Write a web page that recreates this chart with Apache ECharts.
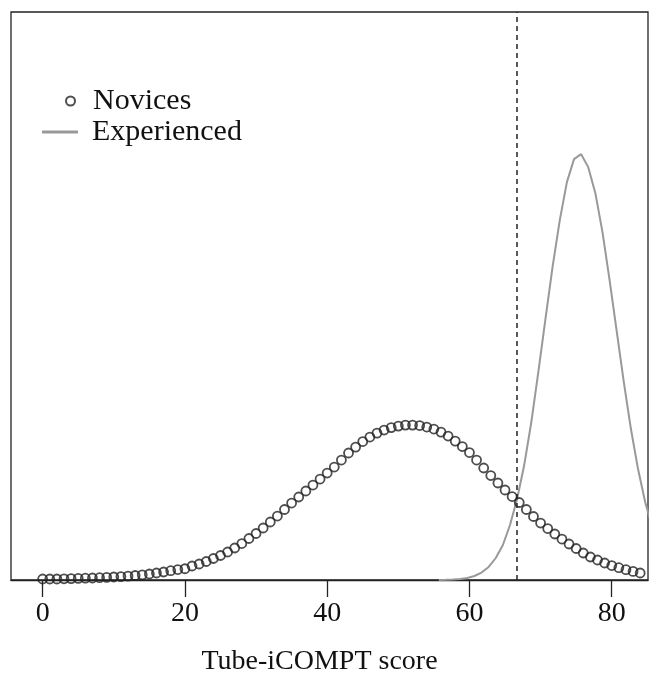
<!DOCTYPE html>
<html>
<head>
<meta charset="utf-8">
<script src="https://cdn.jsdelivr.net/npm/echarts@6/dist/echarts.min.js"></script>
<style>
html,body{margin:0;padding:0;background:#fff;}
#chart{width:649px;height:673px;}
</style>
</head>
<body>
<div id="chart"></div>
<script>
// Novices: density estimate at integer scores 0..84
const noviceScores = [0,1,2,3,4,5,6,7,8,9,10,11,12,13,14,15,16,17,18,19,20,21,22,23,24,25,26,27,28,29,30,31,32,33,34,35,36,37,38,39,40,41,42,43,44,45,46,47,48,49,50,51,52,53,54,55,56,57,58,59,60,61,62,63,64,65,66,67,68,69,70,71,72,73,74,75,76,77,78,79,80,81,82,83,84];
const noviceDensity = [0.00019,0.00019,0.00019,0.00023,0.00027,0.00031,0.00034,0.00038,0.00044,0.00050,
  0.00057,0.00065,0.00075,0.00086,0.00099,0.00115,0.00134,0.00153,0.00178,0.00200,
  0.00215,0.00268,0.00306,0.00354,0.00411,0.00469,0.00536,0.00612,0.00698,0.00794,
  0.00890,0.00995,0.01110,0.01224,0.01349,0.01473,0.01588,0.01703,0.01817,0.01932,
  0.02047,0.02162,0.02296,0.02430,0.02544,0.02650,0.02736,0.02812,0.02870,0.02917,
  0.02946,0.02965,0.02965,0.02956,0.02927,0.02889,0.02831,0.02755,0.02659,0.02554,
  0.02439,0.02296,0.02143,0.01999,0.01856,0.01722,0.01597,0.01483,0.01349,0.01215,
  0.01090,0.00985,0.00880,0.00784,0.00689,0.00603,0.00517,0.00440,0.00383,0.00325,
  0.00277,0.00235,0.00197,0.00165,0.00134];

// Experienced: density curve
const expScores = [55.7,56.7,57.7,58.7,59.7,60.7,61.7,62.7,63.7,64.7,65.7,66.7,67.7,68.7,69.7,70.7,71.7,72.7,73.7,74.7,75.7,76.7,77.7,78.7,79.7,80.7,81.7,82.7,83.7,84.7,85.7];
const expDensity = [0,0.00004,0.00010,0.00019,0.00038,0.00077,0.00143,0.00249,0.00421,0.00670,
  0.01052,0.01550,0.02200,0.03023,0.03998,0.05012,0.06007,0.06887,0.07614,0.08054,
  0.08149,0.07901,0.07403,0.06657,0.05739,0.04763,0.03788,0.02889,0.02123,0.01492,0.01014];

const cutoff = 66.7;
const xTicks = [0,20,40,60,80];
const seriesNames = ['Novices','Experienced'];
const xTitle = 'Tube-iCOMPT score';

const FONT = 'Liberation Serif';
const chart = echarts.init(document.getElementById('chart'), null, {renderer:'canvas'});
chart.setOption({
  animation:false,
  backgroundColor:'#fff',
  grid:{left:11, right:1, top:12, bottom:93, outerBoundsMode:'none', containLabel:false,
        show:true, borderColor:'#222', borderWidth:1.3, backgroundColor:'transparent'},
  xAxis:{
    type:'value', min:-4.45, max:85.1,
    axisLine:{show:true, lineStyle:{color:'#222', width:1.3}},
    axisTick:{show:true, customValues:xTicks, length:17, lineStyle:{color:'#222', width:1.3}},
    axisLabel:{show:true, customValues:xTicks, margin:20, fontFamily:FONT, fontSize:28, color:'#111'},
    splitLine:{show:false},
    name:xTitle, nameLocation:'middle', nameGap:68,
    nameTextStyle:{fontFamily:FONT, fontSize:28, color:'#111', padding:[0,20,0,0]}
  },
  yAxis:{type:'value', min:0, max:0.1087, show:false, splitLine:{show:false}},
  legend:[
    {data:[{name:seriesNames[0], icon:'circle'}], orient:'vertical', left:65, top:86, itemWidth:9, itemHeight:9, padding:0,
     textStyle:{fontFamily:FONT, fontSize:30, color:'#111', padding:[0,0,0,13]}},
    {data:[{name:seriesNames[1], icon:'rect'}], orient:'vertical', left:42, top:117, itemWidth:36, itemHeight:3, padding:0,
     textStyle:{fontFamily:FONT, fontSize:30, color:'#111', padding:[0,0,0,9]}}
  ],
  series:[
    {
      name:seriesNames[0], type:'scatter',
      data:noviceScores.map((x,i)=>[x, noviceDensity[i]]),
      symbol:'circle', symbolSize:9,
      itemStyle:{color:'rgba(0,0,0,0)', borderColor:'#222', borderWidth:1.8},
      z:3
    },
    {
      name:seriesNames[1], type:'line',
      data:expScores.map((x,i)=>[x, expDensity[i]]),
      symbol:'none', smooth:false,
      lineStyle:{color:'#999', width:2},
      itemStyle:{color:'#999'},
      z:2,
      markLine:{
        silent:true, symbol:'none', label:{show:false},
        lineStyle:{color:'#222', type:[5,4], width:1.5},
        data:[{xAxis:cutoff}]
      }
    }
  ]
});
</script>
</body>
</html>
